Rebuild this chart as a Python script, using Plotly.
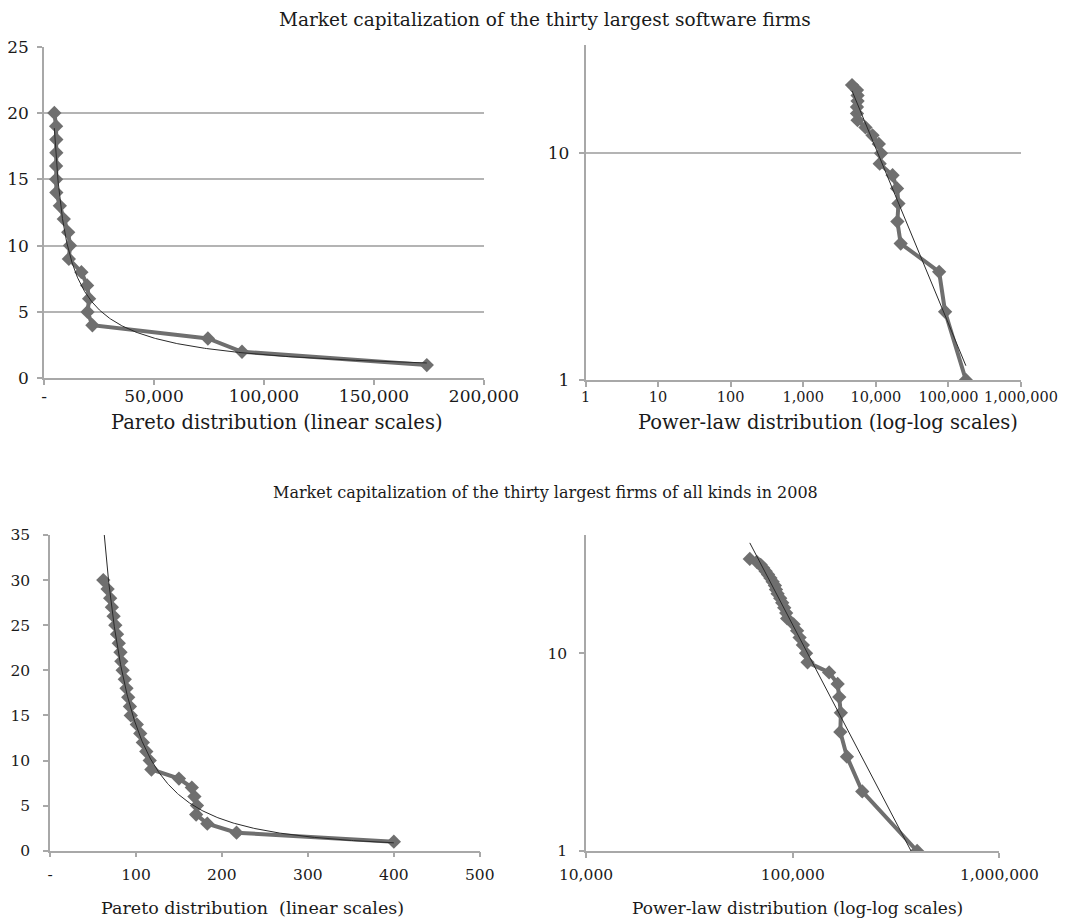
import numpy as np
import plotly.graph_objects as go

# page has an 8px body margin, so the figure is placed at (8, 8)
OFF = 8
FW, FH = 1064, 914
FONT = "DejaVu Serif"

# ---------------- data ----------------
# Software firms: market capitalization (x) by rank (y)
sw_rank = list(range(1, 21))
sw_cap = [174000, 90000, 74500, 22000, 19800, 20500, 19600, 17000, 11300, 11800,
          11000, 9000, 7200, 5600, 5500, 5500, 5600, 5600, 5500, 4700]

# All firms 2008: market capitalization (x, billions) by rank (y)
all_rank = list(range(1, 31))
all_cap = [400, 217, 183, 170, 171, 168, 165, 150, 118, 116,
           112, 108, 105, 101, 94, 93, 91, 89, 87, 84.5,
           83, 82, 80, 78, 76, 74, 72, 70, 67, 62]
all_cap_log = [v * 1000 for v in all_cap]

top_title = "Market capitalization of the thirty largest software firms"
bot_title = "Market capitalization of the thirty largest firms of all kinds in 2008"
lin_title_top = "Pareto distribution (linear scales)"
log_title_top = "Power-law distribution (log-log scales)"
lin_title_bot = "Pareto distribution  (linear scales)"
log_title_bot = "Power-law distribution (log-log scales)"

tl_xticks = [0, 50000, 100000, 150000, 200000]
tl_xtext = ["-", "50,000", "100,000", "150,000", "200,000"]
tl_yticks = [0, 5, 10, 15, 20, 25]
tr_xticks = [1, 10, 100, 1000, 10000, 100000, 1000000]
tr_xtext = ["1", "10", "100", "1,000", "10,000", "100,000", "1,000,000"]
bl_xticks = [0, 100, 200, 300, 400, 500]
bl_xtext = ["-", "100", "200", "300", "400", "500"]
bl_yticks = [0, 5, 10, 15, 20, 25, 30, 35]
br_xticks = [10000, 100000, 1000000]
br_xtext = ["10,000", "100,000", "1,000,000"]
log_yticks = [1, 10]


def power_fit(x, y):
    b, a = np.polyfit(np.log(x), np.log(y), 1)
    xs = np.geomspace(min(x), max(x), 300)
    return xs, np.exp(a) * xs ** b


def px_x(p):
    return (p - OFF) / FW


def px_y(p):
    return 1 - (p - OFF) / FH


DATA_COLOR = "#6f6f6f"
TREND_COLOR = "#2a2a2a"
AXIS_COLOR = "#a8a8a8"
GRID_COLOR = "#b4b4b4"

fig = go.Figure()


def add_panel(xs, ys, xa, ya):
    tx, ty = power_fit(xs, ys)
    fig.add_trace(go.Scatter(x=xs, y=ys, mode="lines+markers", xaxis=xa, yaxis=ya,
                             line=dict(color=DATA_COLOR, width=4),
                             marker=dict(symbol="diamond", size=11, color=DATA_COLOR),
                             showlegend=False))
    fig.add_trace(go.Scatter(x=tx, y=ty, mode="lines", xaxis=xa, yaxis=ya,
                             line=dict(color=TREND_COLOR, width=1),
                             showlegend=False))


add_panel(sw_cap, sw_rank, "x", "y")
add_panel(sw_cap, sw_rank, "x2", "y2")
add_panel(all_cap, all_rank, "x3", "y3")
add_panel(all_cap_log, all_rank, "x4", "y4")


def tf(size):
    return dict(family=FONT, size=size, color="#1a1a1a")


common = dict(showline=True, linecolor=AXIS_COLOR, linewidth=1.5, ticks="outside",
              ticklen=5, tickcolor=AXIS_COLOR, tickwidth=1.5, tickangle=0,
              zeroline=False, automargin=False)

fig.update_layout(
    width=FW, height=FH, margin=dict(l=0, r=0, t=0, b=0, autoexpand=False),
    paper_bgcolor="white", plot_bgcolor="white",
    xaxis=dict(domain=[px_x(44), px_x(484)], range=[0, 200000], anchor="y",
               tickvals=tl_xticks, ticktext=tl_xtext, showgrid=False,
               tickfont=tf(17), ticklabelstandoff=-3, **common),
    yaxis=dict(domain=[px_y(378.3), px_y(46.6)], range=[0, 25], anchor="x",
               tickvals=tl_yticks, showgrid=True, gridcolor=GRID_COLOR, gridwidth=1.5,
               tickfont=tf(17), ticklabelstandoff=5, **common),
    xaxis2=dict(domain=[px_x(585.5), px_x(1021)], type="log", range=[0, 6], anchor="y2",
                tickvals=tr_xticks, ticktext=tr_xtext, showgrid=False,
                tickfont=tf(14.5), ticklabelstandoff=-2, **common),
    yaxis2=dict(domain=[px_y(380), px_y(45)], type="log", range=[0, 1.4777], anchor="x2",
                tickvals=log_yticks, ticktext=["1", "10"], showgrid=True,
                gridcolor=GRID_COLOR, gridwidth=1.5, tickfont=tf(17),
                ticklabelstandoff=6, **common),
    xaxis3=dict(domain=[px_x(50), px_x(479.8)], range=[0, 500], anchor="y3",
                tickvals=bl_xticks, ticktext=bl_xtext, showgrid=False,
                tickfont=tf(15.5), ticklabelstandoff=4, **common),
    yaxis3=dict(domain=[px_y(850.7), px_y(535)], range=[0, 35], anchor="x3",
                tickvals=bl_yticks, showgrid=False, tickfont=tf(15.5),
                ticklabelstandoff=10, **common),
    xaxis4=dict(domain=[px_x(586), px_x(999.4)], type="log", range=[4, 6], anchor="y4",
                tickvals=br_xticks, ticktext=br_xtext, showgrid=False,
                tickfont=tf(15.5), ticklabelstandoff=4, **common),
    yaxis4=dict(domain=[px_y(851), px_y(535)], type="log", range=[0, 1.598], anchor="x4",
                tickvals=log_yticks, ticktext=["1", "10"], showgrid=False,
                tickfont=tf(15.5), ticklabelstandoff=9, **common),
)

texts = [
    (top_title, 545, 19, 18.5),
    (lin_title_top, 277, 422, 19.5),
    (log_title_top, 828, 422, 19.5),
    (bot_title, 545, 492, 16),
    (lin_title_bot, 252, 908, 17.5),
    (log_title_bot, 797, 908, 17),
]
for t, cx, cy, sz in texts:
    fig.add_annotation(text=t, x=px_x(cx), y=px_y(cy), xref="paper", yref="paper",
                       showarrow=False, xanchor="center", yanchor="middle", font=tf(sz))

fig.write_html("out.html")
